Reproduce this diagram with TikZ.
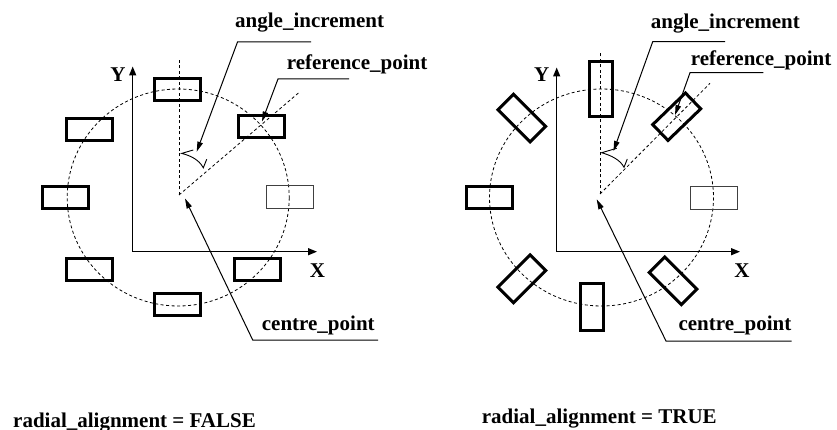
\documentclass[tikz,border=0pt]{standalone}
\usepackage{fontspec}
\setmainfont{Liberation Serif}
\usetikzlibrary{arrows.meta}
\begin{document}
\begin{tikzpicture}[x=1pt,y=-1pt,
  lbl/.style={font=\fontsize{21}{25}\selectfont\bfseries, anchor=base west, inner sep=0pt},
  axlbl/.style={font=\fontsize{21}{25}\selectfont\bfseries, inner sep=0pt},
  pbox/.style={draw, line width=3pt, inner sep=0pt, minimum width=46pt, minimum height=22pt},
  rbox/.style={draw, line width=3pt, inner sep=0pt, minimum width=45.5pt, minimum height=22pt},
  tbox/.style={draw, black!75, line width=1.3pt, inner sep=0pt, minimum width=47pt, minimum height=23pt},
  dsh/.style={line width=0.8pt, dash pattern=on 3pt off 2.5pt},
  axis/.style={line width=1.3pt, -{Triangle[length=9pt,width=7pt]}},
  leadarr/.style={line width=1pt, -{Triangle[length=10pt,width=5.5pt]}},
  angmark/.style={line width=0.9pt, line join=miter}
]
\useasboundingbox (0,0) rectangle (837,430);

% ================= LEFT: radial_alignment = FALSE =================
\draw[dsh] (178.2,197.5) ellipse [x radius=111, y radius=108.5];
\coordinate (lc) at (179,195);
\coordinate (lvt) at (179,58);
\coordinate (lrt) at (299,92.5);
\draw[dsh] (lc) -- (lvt);
\draw[dsh] (lc) -- (lrt);

\node[pbox] (lb1) at (177.7,89.3) {};
\node[pbox] (lb2) at (261.5,126.5) {};
\node[tbox] (lb3) at (290.2,197.2) {};
\node[pbox] (lb4) at (257.7,269.2) {};
\node[pbox] (lb5) at (177,304.3) {};
\node[pbox] (lb6) at (89,269.5) {};
\node[pbox] (lb7) at (65.3,197.5) {};
\node[pbox] (lb8) at (89.5,129.3) {};

\coordinate (lo) at (132.7,251.7);
\coordinate (lyt) at (132.7,66.5);
\coordinate (lxt) at (317,251.7);
\draw[axis] (lo) -- (lyt);
\draw[axis] (lo) -- (lxt);
\node[axlbl] (ly) at (118,74.5) {Y};
\node[axlbl] (lx) at (317.5,270.5) {X};

% angle mark
\coordinate (lat) at (181.7,153.4);
\coordinate (law) at (193.3,150);
\coordinate (lae) at (203.3,167.8);
\coordinate (lak) at (206.7,159.3);
\draw[angmark] (law) -- (lat) .. controls (190,155.5) and (199,159.5) .. (lae) -- (lak);

% leaders
\node[lbl] (lai) at (235,27.5) {angle\_increment};
\coordinate (lai1) at (311,42);
\coordinate (lai2) at (237.5,42);
\coordinate (lait) at (196.7,151.7);
\draw[leadarr] (lai1) -- (lai2) -- (lait);

\node[lbl] (lrp) at (286.7,70) {reference\_point};
\coordinate (lrp1) at (349,79);
\coordinate (lrp2) at (278,79);
\coordinate (lrpt) at (262,121.5);
\draw[leadarr] (lrp1) -- (lrp2) -- (lrpt);

\node[lbl] (lcp) at (261.7,330.5) {centre\_point};
\coordinate (lcp1) at (378,340);
\coordinate (lcp2) at (252.7,340);
\coordinate (lcpt) at (185,198.5);
\draw[leadarr] (lcp1) -- (lcp2) -- (lcpt);

\node[lbl] (lcap) at (13,427) {radial\_alignment = FALSE};

% ================= RIGHT: radial_alignment = TRUE =================
\draw[dsh] (601.5,197.5) ellipse [x radius=112, y radius=108.5];
\coordinate (rc) at (600,194);
\coordinate (rvt) at (600,51.7);
\coordinate (rrt) at (710,83.3);
\draw[dsh] (rc) -- (rvt);
\draw[dsh] (rc) -- (rrt);

\node[pbox, minimum width=23pt, minimum height=55pt] (rb1) at (601.2,89.2) {};
\node[rbox, rotate=44] (rb2) at (676.7,116.7) {};
\node[tbox] (rb3) at (713.8,198) {};
\node[rbox, rotate=-45] (rb4) at (673,280.8) {};
\node[pbox, minimum width=22.7pt, minimum height=47pt] (rb5) at (592.2,306.7) {};
\node[rbox, rotate=45] (rb6) at (521.8,278.8) {};
\node[pbox] (rb7) at (489.7,197.8) {};
\node[rbox, rotate=-45] (rb8) at (521.8,118) {};

\coordinate (ro) at (556.7,251.7);
\coordinate (ryt) at (556.7,67.5);
\coordinate (rxt) at (740,251.7);
\draw[axis] (ro) -- (ryt);
\draw[axis] (ro) -- (rxt);
\node[axlbl] (ry) at (541.7,75) {Y};
\node[axlbl] (rx) at (742,270.3) {X};

% angle mark
\coordinate (rat) at (601.7,152.7);
\coordinate (raw) at (616.7,148.3);
\coordinate (rae) at (624,167.3);
\coordinate (rak) at (627.3,159);
\draw[angmark] (raw) -- (rat) .. controls (611,155.5) and (620,159.5) .. (rae) -- (rak);

% leaders
\node[lbl] (rai) at (650.7,28.3) {angle\_increment};
\coordinate (rai1) at (725,41.7);
\coordinate (rai2) at (652.7,41.7);
\coordinate (rait) at (613.5,151);
\draw[leadarr] (rai1) -- (rai2) -- (rait);

\node[lbl] (rrp) at (690.7,66) {reference\_point};
\coordinate (rrp1) at (763.3,72.7);
\coordinate (rrp2) at (690,72.7);
\coordinate (rrpt) at (675,115);
\draw[leadarr] (rrp1) -- (rrp2) -- (rrpt);

\node[lbl] (rcp) at (678.3,330.7) {centre\_point};
\coordinate (rcp1) at (791.7,341);
\coordinate (rcp2) at (666,341);
\coordinate (rcpt) at (596.7,199.3);
\draw[leadarr] (rcp1) -- (rcp2) -- (rcpt);

\node[lbl] (rcap) at (481.7,423.3) {radial\_alignment = TRUE};
\end{tikzpicture}
\end{document}
